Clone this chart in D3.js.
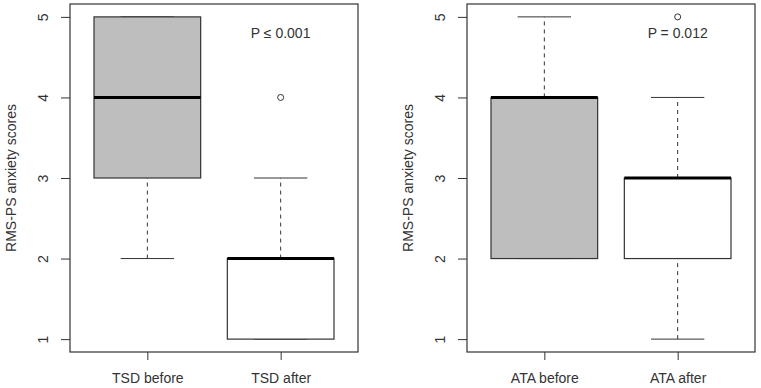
<!DOCTYPE html>
<html>
<head>
<meta charset="utf-8">
<script src="https://cdn.jsdelivr.net/npm/d3@7"></script>
<style>
  body { margin: 0; background: #fff; }
  text { font-family: "Liberation Sans", Arial, sans-serif; fill: #333; }
</style>
</head>
<body>
<div id="chart"></div>
<script>
// values
// stats = [lower whisker, q1, median, q3, upper whisker]
const tsdLabels = ["TSD before", "TSD after"];
const tsdStats = [[2, 3, 4, 5, 5], [1, 1, 2, 2, 3]];
const tsdOutliers = [[], [4]];
const tsdP = "P \u2264 0.001";

const ataLabels = ["ATA before", "ATA after"];
const ataStats = [[2, 2, 4, 4, 5], [1, 2, 3, 3, 4]];
const ataOutliers = [[], [5]];
const ataP = "P = 0.012";

const yTicks = [1, 2, 3, 4, 5];
const fills = ["#bebebe", "#ffffff"];
const yTitle = "RMS-PS anxiety scores";

const width = 761, height = 388;
const lineColor = "#333";

var svg = d3.select("#chart").append("svg")
    .attr("width", width)
    .attr("height", height);

function drawPanel(left, labels, stats, outliers, pText) {
    var plotW = 288;
    var x = d3.scaleLinear().domain([0.42, 2.58]).range([left, left + plotW]);
    var y = d3.scaleLinear().domain([0.84, 5.16]).range([352, 4]);
    var g = svg.append("g");

    //boxes
    stats.forEach(function (s, i) {
        var c = i + 1;
        // whiskers (dashed)
        if (s[1] > s[0]) {
            g.append("line")
                .attr("x1", x(c)).attr("x2", x(c))
                .attr("y1", y(s[0])).attr("y2", y(s[1]))
                .attr("stroke", lineColor).attr("stroke-dasharray", "4,4");
        }
        if (s[4] > s[3]) {
            g.append("line")
                .attr("x1", x(c)).attr("x2", x(c))
                .attr("y1", y(s[3])).attr("y2", y(s[4]))
                .attr("stroke", lineColor).attr("stroke-dasharray", "4,4");
        }
        // staples
        [s[0], s[4]].forEach(function (v) {
            g.append("line")
                .attr("x1", x(c - 0.2)).attr("x2", x(c + 0.2))
                .attr("y1", y(v)).attr("y2", y(v))
                .attr("stroke", lineColor);
        });
        // box
        g.append("rect")
            .attr("x", x(c - 0.4))
            .attr("y", y(s[3]))
            .attr("width", x(c + 0.4) - x(c - 0.4))
            .attr("height", y(s[1]) - y(s[3]))
            .attr("fill", fills[i])
            .attr("stroke", lineColor)
            .attr("stroke-width", 1.2);
        // median
        g.append("line")
            .attr("x1", x(c - 0.4)).attr("x2", x(c + 0.4))
            .attr("y1", y(s[2])).attr("y2", y(s[2]))
            .attr("stroke", "#000").attr("stroke-width", 3);
        // outliers
        outliers[i].forEach(function (v) {
            g.append("circle")
                .attr("cx", x(c)).attr("cy", y(v)).attr("r", 3)
                .attr("fill", "none").attr("stroke", lineColor);
        });
    });

    //frame
    g.append("rect")
        .attr("x", x(0.42)).attr("y", y(5.16))
        .attr("width", plotW).attr("height", y(0.84) - y(5.16))
        .attr("fill", "none").attr("stroke", lineColor).attr("stroke-width", 1.2);

    //y axis
    var yAxis = g.append("g")
        .attr("transform", "translate(" + left + ",0)")
        .call(d3.axisLeft(y).tickValues(yTicks).tickSize(9).tickPadding(0).tickFormat(d3.format("d")));
    yAxis.select(".domain").remove();
    yAxis.selectAll(".tick line").attr("stroke", lineColor);
    yAxis.selectAll(".tick text")
        .attr("x", null).attr("dy", null)
        .attr("text-anchor", "middle")
        .attr("font-size", 14)
        .attr("transform", "translate(-22,0) rotate(-90)")
        .attr("y", 0)
        .attr("dominant-baseline", "auto");

    //x axis
    var xAxis = g.append("g")
        .attr("transform", "translate(0,352)")
        .call(d3.axisBottom(x).tickValues([1, 2]).tickSize(8).tickFormat(function (d) { return labels[d - 1]; }));
    xAxis.select(".domain").remove();
    xAxis.selectAll(".tick line").attr("stroke", lineColor);
    xAxis.selectAll(".tick text")
        .attr("y", 31).attr("dy", null)
        .attr("font-size", 14);

    //axis title
    g.append("text")
        .attr("transform", "translate(" + (left - 54) + "," + y(3) + ") rotate(-90)")
        .attr("text-anchor", "middle")
        .attr("font-size", 14)
        .text(yTitle);

    //p value
    g.append("text")
        .attr("x", x(2)).attr("y", y(4.74))
        .attr("text-anchor", "middle")
        .attr("font-size", 14)
        .text(pText);
}

drawPanel(70, tsdLabels, tsdStats, tsdOutliers, tsdP);
drawPanel(467, ataLabels, ataStats, ataOutliers, ataP);
</script>
</body>
</html>
